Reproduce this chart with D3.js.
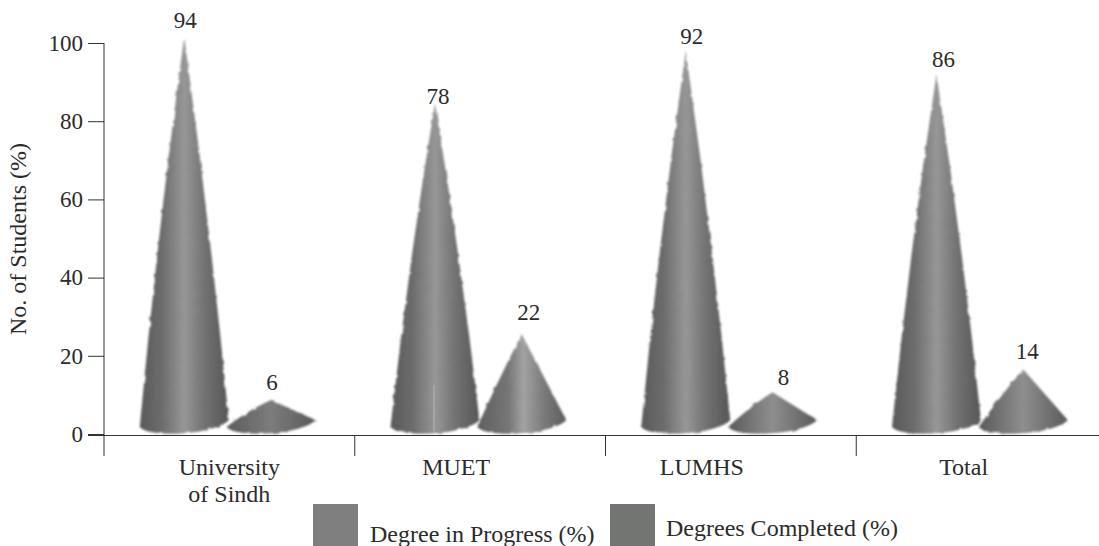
<!DOCTYPE html>
<html>
<head>
<meta charset="utf-8">
<style>
  html, body { margin: 0; padding: 0; background: #fff; }
  svg { display: block; }
  text { font-family: "Liberation Serif", serif; fill: #2b2b2b; }
</style>
<script src="https://cdn.jsdelivr.net/npm/d3@7"></script>
</head>
<body>
<div id="chart"></div>
<script>
'use strict';

const categories = [['University', 'of Sindh'], ['MUET'], ['LUMHS'], ['Total']];
const seriesNames = ['Degree in Progress (%)', 'Degrees Completed (%)'];
const yTicks = [0, 20, 40, 60, 80, 100];

// printed labels
const progressLabels = [94, 78, 92, 86];
const completedLabels = [6, 22, 8, 14];
const progressHeights = [101.5, 84.5, 98, 92];
const completedHeights = [8.7, 25.5, 10.7, 16.5];

const width = 1099, height = 546;
const svg = d3.select('#chart').append('svg')
  .attr('width', width).attr('height', height);

const catIndex = d3.range(categories.length);
const x = d3.scaleBand().domain(catIndex).range([104, 1107]);
const xInner = d3.scaleOrdinal().domain([0, 1])
  .range([x.bandwidth() * 0.32, x.bandwidth() * 0.666]);
const y = d3.scaleLinear().domain([0, 100]).range([434, 43]);

const defs = svg.append('defs');

function addGradient(id, stops) {
  const grad = defs.append('linearGradient').attr('id', id);
  stops.forEach(s => grad.append('stop')
    .attr('offset', s[0]).attr('stop-color', s[1]));
}
addGradient('cone-a', [[0, '#5a5a5a'], [0.25, '#6c6c6c'], [0.5, '#979797'], [0.72, '#737373'], [1, '#565656']]);
addGradient('cone-b', [[0, '#5f5f5f'], [0.35, '#767676'], [0.52, '#a2a2a2'], [0.75, '#7a7a7a'], [1, '#5c5c5c']]);
addGradient('cone-c', [[0, '#5c5c5c'], [0.5, '#7c7c7c'], [1, '#5a5a5a']]);
addGradient('cone-d', [[0, '#5a5a5a'], [0.5, '#8e8e8e'], [1, '#5a5a5a']]);
const completedFills = ['cone-c', 'cone-b', 'cone-d', 'cone-d'];

// rough, scanned looking edges
const rough = defs.append('filter').attr('id', 'rough')
  .attr('x', '-10%').attr('y', '-10%').attr('width', '120%').attr('height', '120%');
rough.append('feTurbulence').attr('type', 'fractalNoise')
  .attr('baseFrequency', 0.14).attr('numOctaves', 2).attr('seed', 4).attr('result', 'n');
rough.append('feDisplacementMap').attr('in', 'SourceGraphic').attr('in2', 'n')
  .attr('scale', 3).attr('result', 'd');
rough.append('feGaussianBlur').attr('in', 'd').attr('stdDeviation', 0.8);

function conePath(cx, top, bulge) {
  const halfW = 44.5;
  const leftY = y(0) - 7, rightY = y(0) - 14;
  const midY = (top + rightY) / 2;
  return `M${cx},${top} Q${cx + halfW / 2 + bulge},${midY} ${cx + halfW},${rightY}` +
    ` A${halfW + 1},12 -5 0 1 ${cx - halfW},${leftY}` +
    ` Q${cx - halfW / 2 - bulge},${midY} ${cx},${top} Z`;
}

const cones = [];
catIndex.forEach(i => {
  cones.push({ cat: i, s: 0, h: progressHeights[i], fill: 'cone-a' });
  cones.push({ cat: i, s: 1, h: completedHeights[i], fill: completedFills[i] });
});

svg.append('g').selectAll('path')
  .data(cones)
  .enter()
  .append('path')
    .attr('d', d => conePath(x(d.cat) + xInner(d.s), y(d.h), d.s === 0 ? 4 : 0))
    .attr('fill', d => `url(#${d.fill})`)
    .attr('filter', 'url(#rough)');

// the pale scratch on the MUET cone
svg.append('line')
  .attr('x1', x(1) + xInner(0) - 1).attr('x2', x(1) + xInner(0) - 1)
  .attr('y1', y(12.5)).attr('y2', y(0.8))
  .attr('stroke', '#b5b5b5').attr('stroke-width', 1);

// y axis
const yAxis = d3.axisLeft(y).tickValues(yTicks).tickSize(16).tickPadding(5);
const yG = svg.append('g').attr('transform', 'translate(104,0)').call(yAxis);
yG.select('.domain').remove();
yG.selectAll('.tick line').attr('stroke', '#333');
yG.selectAll('.tick text').attr('font-size', 23)
  .style('font-family', '"Liberation Serif", serif').attr('fill', '#2b2b2b');

const axisColor = '#333';
svg.append('line').attr('x1', 104).attr('x2', 104).attr('y1', y(100)).attr('y2', 456)
  .attr('stroke', axisColor);
svg.append('line').attr('x1', 88).attr('x2', width).attr('y1', 435.5).attr('y2', 435.5)
  .attr('stroke', axisColor);

svg.append('g').selectAll('line')
  .data(catIndex.slice(1))
  .enter()
  .append('line')
    .attr('x1', d => x(d)).attr('x2', d => x(d))
    .attr('y1', 435).attr('y2', 456)
    .attr('stroke', axisColor);

svg.append('text')
  .attr('transform', 'translate(26,239) rotate(-90)')
  .attr('text-anchor', 'middle').attr('font-size', 24)
  .text('No. of Students (%)');

// category labels sit off the band centres in the original
const labelShift = [0, -24, -29, -18];
const catLabels = svg.append('g').selectAll('text')
  .data(catIndex)
  .enter()
  .append('text')
    .attr('text-anchor', 'middle').attr('font-size', 24)
    .attr('x', d => x(d) + x.bandwidth() / 2 + labelShift[d])
    .attr('y', 475);
catLabels.selectAll('tspan')
  .data(d => categories[d].map(t => ({ t: t, cat: d })))
  .enter()
  .append('tspan')
    .attr('x', d => x(d.cat) + x.bandwidth() / 2 + labelShift[d.cat])
    .attr('dy', (d, i) => i ? 27 : 0)
    .text(d => d.t);

// value labels above each cone, nudged by hand like the original
const labelNudge = [[[1, -9], [1, -10]], [[3, 0], [7, -14]], [[6, -7], [11, -7]], [[7, -7], [4, -10]]];
const labelRows = [];
catIndex.forEach(i => {
  labelRows.push({ cat: i, s: 0, h: progressHeights[i], v: progressLabels[i] });
  labelRows.push({ cat: i, s: 1, h: completedHeights[i], v: completedLabels[i] });
});
svg.append('g').selectAll('text')
  .data(labelRows)
  .enter()
  .append('text')
    .attr('text-anchor', 'middle').attr('font-size', 23)
    .attr('x', d => x(d.cat) + xInner(d.s) + labelNudge[d.cat][d.s][0])
    .attr('y', d => y(d.h) + labelNudge[d.cat][d.s][1])
    .text(d => d.v);

// legend
const legendX = [313, 610], legendFill = ['#7f7f7f', '#737573'];
const legendTextX = [370, 666], legendTextY = [542, 536];
const legend = svg.append('g').selectAll('g')
  .data(seriesNames)
  .enter()
  .append('g');
legend.append('rect')
  .attr('x', (d, i) => legendX[i]).attr('y', 504)
  .attr('width', 45).attr('height', 42)
  .attr('fill', (d, i) => legendFill[i]);
legend.append('text')
  .attr('x', (d, i) => legendTextX[i]).attr('y', (d, i) => legendTextY[i])
  .attr('font-size', 24)
  .text(d => d);
</script>
</body>
</html>
